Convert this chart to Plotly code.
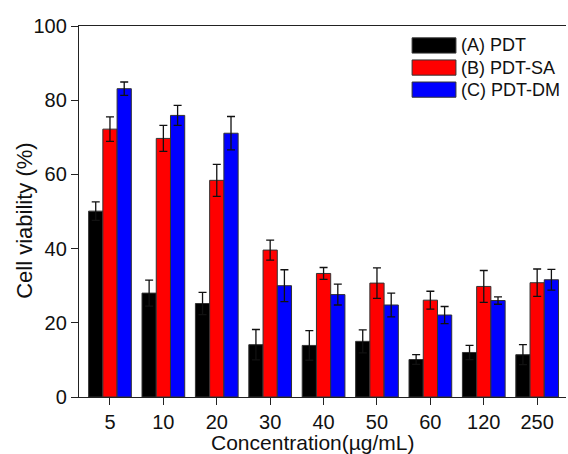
import plotly.graph_objects as go

categories = ["5", "10", "20", "30", "40", "50", "60", "120", "250"]
series_names = ["(A) PDT", "(B) PDT-SA", "(C) PDT-DM"]
pdt = [50.1, 28.0, 25.2, 14.1, 13.9, 15.0, 10.1, 12.0, 11.4]
pdt_err = [2.5, 3.5, 3.0, 4.1, 4.0, 3.1, 1.3, 1.9, 2.7]
pdt_sa = [72.2, 69.7, 58.4, 39.6, 33.3, 30.7, 26.1, 29.8, 30.8]
pdt_sa_err = [3.3, 3.5, 4.3, 2.7, 1.6, 4.1, 2.4, 4.3, 3.7]
pdt_dm = [83.1, 75.9, 71.1, 30.0, 27.6, 24.8, 22.1, 26.0, 31.6]
pdt_dm_err = [1.8, 2.7, 4.5, 4.3, 2.8, 3.2, 2.3, 1.0, 2.8]
colors = ["#000000", "#ff0000", "#0000ff"]
y_ticks = [0, 20, 40, 60, 80, 100]
x_title = "Concentration(µg/mL)"
y_title = "Cell viability (%)"

FONT = "Liberation Sans, Arial, sans-serif"
TXT = "#111111"

fig = go.Figure()
for name, vals, errs, col in zip(series_names, [pdt, pdt_sa, pdt_dm],
                                 [pdt_err, pdt_sa_err, pdt_dm_err], colors):
    fig.add_trace(go.Bar(
        x=categories, y=vals, name=name,
        marker=dict(color=col, line=dict(color="#333333", width=1)),
        error_y=dict(type="data", array=errs, visible=True,
                     color="#111111", thickness=1.3, width=4),
        showlegend=False,
    ))

# Custom legend (wide swatches like the original)
row_h = 0.0595
for i, (name, col) in enumerate(zip(series_names, colors)):
    y_top = 0.968 - i * row_h
    fig.add_shape(type="rect", xref="paper", yref="paper",
                  x0=0.684, x1=0.774, y0=y_top - 0.041, y1=y_top,
                  fillcolor=col, line=dict(color="#333333", width=1))
    fig.add_annotation(xref="paper", yref="paper", x=0.780, y=y_top - 0.0205,
                       text=name, showarrow=False, xanchor="left", yanchor="middle",
                       font=dict(family=FONT, size=18, color=TXT))

# Axis titles
fig.add_annotation(xref="paper", yref="paper", x=0.48, y=-0.087,
                   text=x_title, showarrow=False, xanchor="center", yanchor="top",
                   font=dict(family=FONT, size=21, color=TXT))
fig.add_annotation(xref="paper", yref="paper", x=-0.112, y=0.476,
                   text=y_title, showarrow=False, textangle=-90,
                   xanchor="center", yanchor="middle",
                   font=dict(family=FONT, size=22, color=TXT))

fig.update_layout(
    width=568, height=454,
    margin=dict(l=79, r=2, t=26, b=57),
    plot_bgcolor="white", paper_bgcolor="white",
    barmode="group", bargap=0.2, bargroupgap=0,
    font=dict(family=FONT, color=TXT),
)
fig.update_xaxes(
    range=[-0.58, 8.54], showline=True, linecolor="#222222", linewidth=1.3,
    mirror=True, ticks="outside", ticklen=7, tickwidth=1.3, tickcolor="#222222",
    tickfont=dict(size=20, family=FONT, color=TXT),
    showgrid=False, zeroline=False, automargin=False,
)
fig.update_yaxes(
    range=[0, 100], tickvals=y_ticks, showline=True, linecolor="#222222", linewidth=1.3,
    mirror=False, ticks="outside", ticklen=7, tickwidth=1.3, tickcolor="#222222",
    tickfont=dict(size=20, family=FONT, color=TXT),
    showgrid=False, zeroline=False, automargin=False,
)

fig.write_html(
    "out.html",
    config={"displayModeBar": False},
    post_script="document.body.style.margin='0';document.body.style.overflow='hidden';",
)
